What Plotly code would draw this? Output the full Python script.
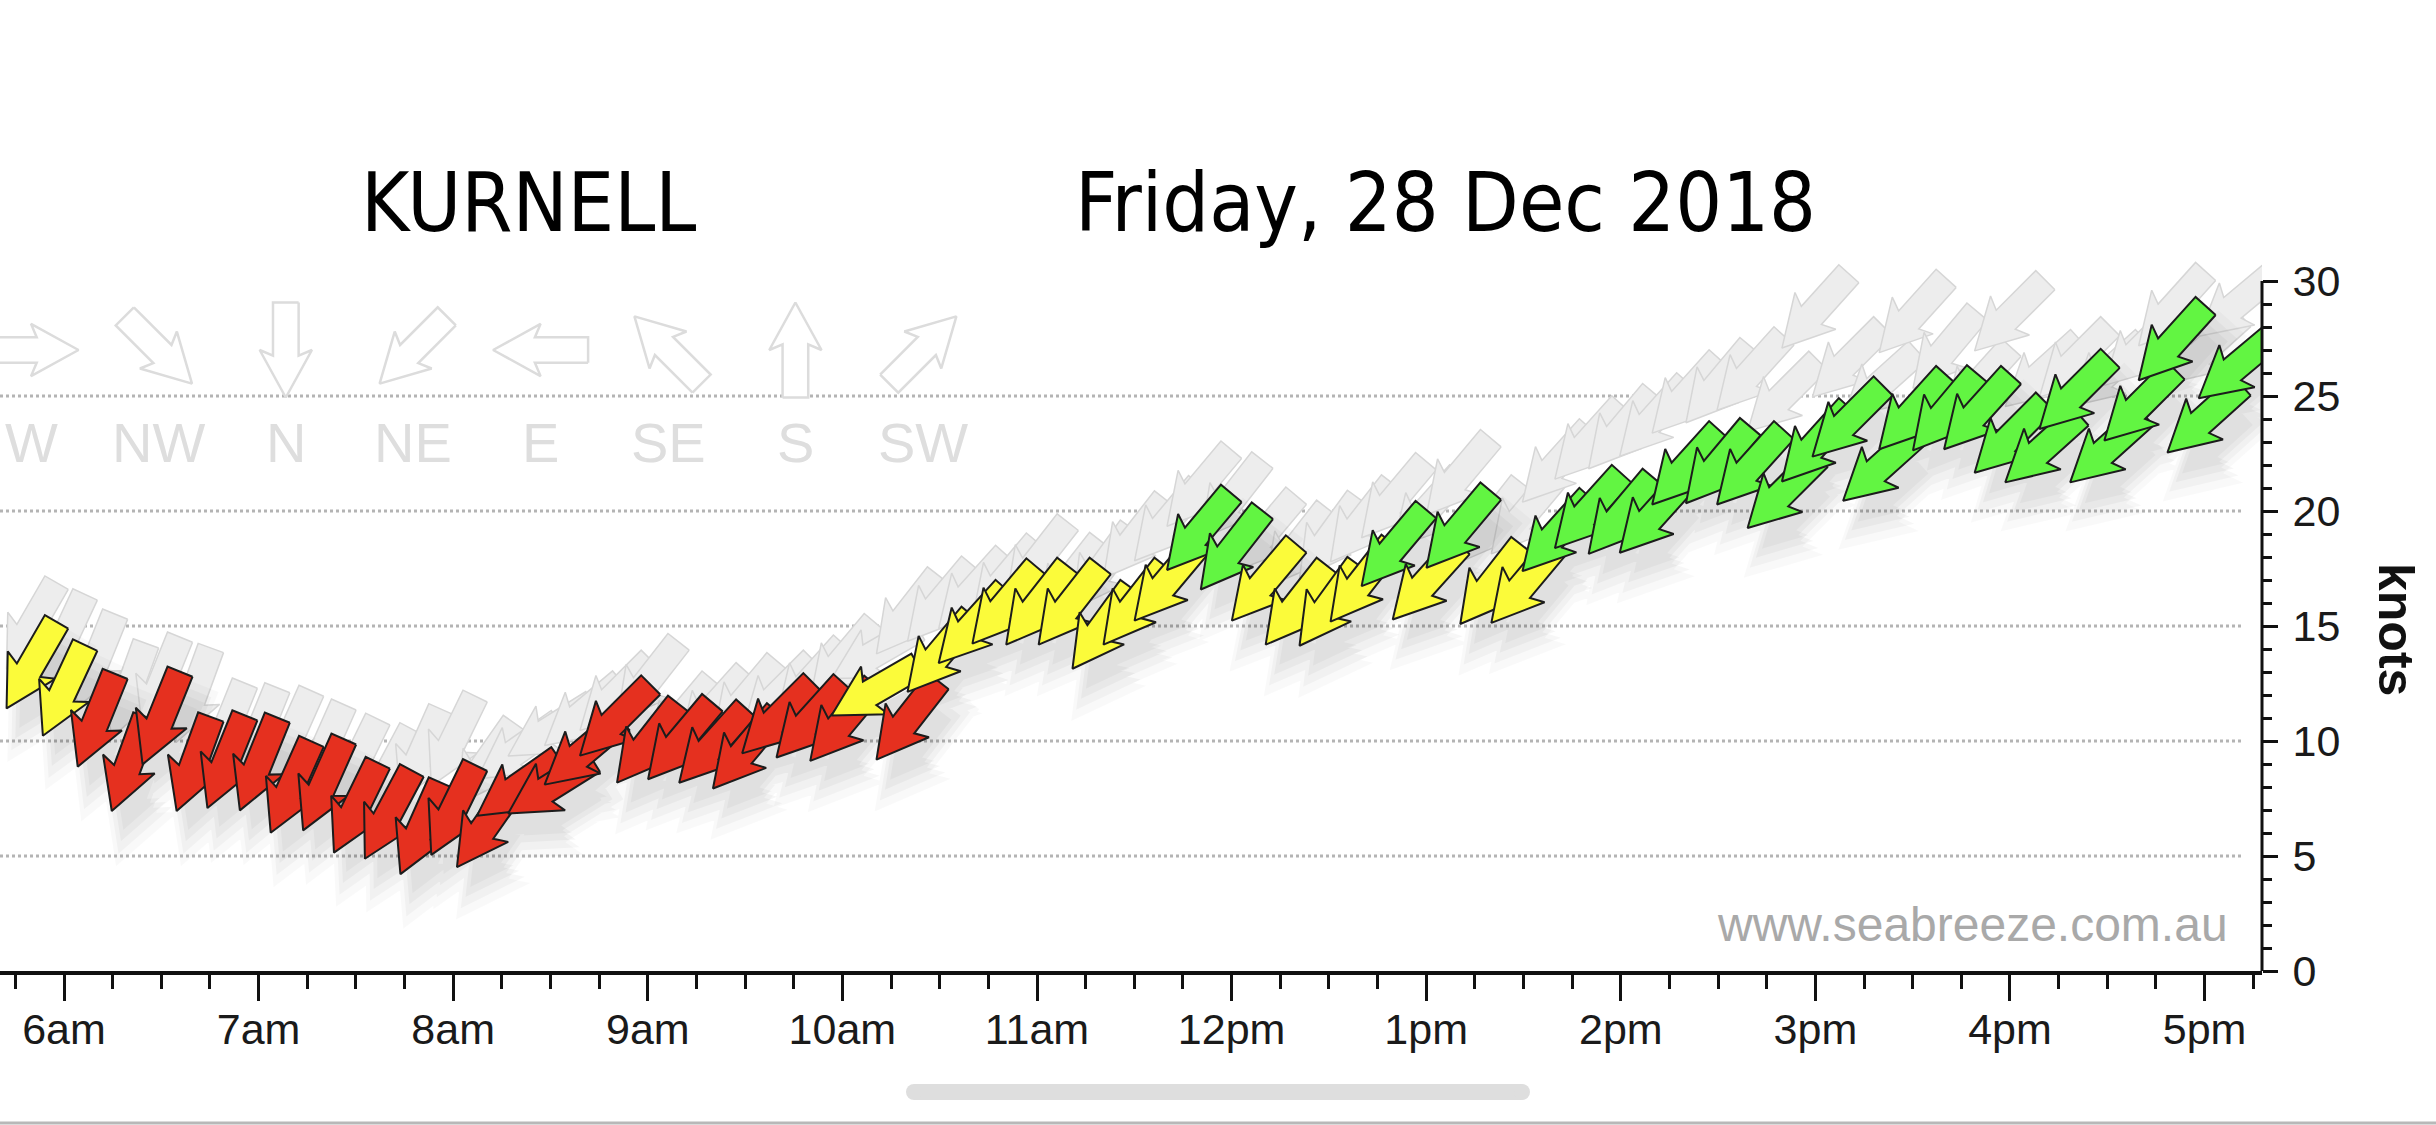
import numpy as np
import plotly.graph_objects as go

# ---------------- data ----------------
times = ["05:50", "06:00", "06:10", "06:20", "06:30", "06:40", "06:50", "07:00", "07:10", "07:20",
         "07:30", "07:40", "07:50", "08:00", "08:10", "08:20", "08:30", "08:40", "08:50", "09:00",
         "09:10", "09:20", "09:30", "09:40", "09:50", "10:00", "10:10", "10:20", "10:30", "10:40",
         "10:50", "11:00", "11:10", "11:20", "11:30", "11:40", "11:50", "12:00", "12:10", "12:20",
         "12:30", "12:40", "12:50", "13:00", "13:10", "13:20", "13:30", "13:40", "13:50", "14:00",
         "14:10", "14:20", "14:30", "14:40", "14:50", "15:00", "15:10", "15:20", "15:30", "15:40",
         "15:50", "16:00", "16:10", "16:20", "16:30", "16:40", "16:50", "17:00", "17:10"]

speed_kn = [13.3, 12.2, 10.9, 9.0, 11.0, 9.0, 9.1, 9.0, 8.0, 8.1,
            7.1, 6.8, 6.2, 7.0, 6.3, 8.0, 8.0, 9.5, 10.9, 9.9,
            10.0, 9.8, 9.6, 11.0, 10.9, 10.8, 12.2, 10.9, 13.8, 15.0,
            15.9, 15.9, 15.9, 14.9, 15.9, 16.9, 19.1, 18.3, 16.9, 15.9,
            15.9, 16.9, 18.4, 16.9, 19.2, 16.8, 16.8, 19.0, 20.0, 19.8,
            19.8, 21.9, 22.0, 21.9, 20.8, 22.9, 23.9, 21.9, 24.3, 24.3,
            24.3, 23.2, 22.7, 25.1, 22.7, 24.6, 27.3, 24.0, 26.3]

gust_kn = [15.0, 14.4, 13.5, 12.2, 12.5, 12.0, 10.5, 10.3, 10.2, 9.6,
           9.0, 8.6, 9.4, 10.0, 9.0, 9.6, 10.5, 11.2, 12.0, 12.6,
           11.0, 11.4, 11.8, 12.0, 12.6, 13.5, 13.8, 15.5, 16.0, 16.5,
           17.0, 17.8, 17.0, 17.5, 18.8, 19.5, 21.0, 20.5, 19.0, 18.4,
           18.8, 19.5, 20.5, 20.0, 21.5, 19.5, 19.8, 22.0, 23.0, 23.5,
           24.0, 25.0, 25.5, 26.0, 25.0, 28.7, 26.5, 25.5, 28.5, 27.0,
           25.5, 28.5, 26.0, 26.5, 26.0, 27.0, 28.8, 27.0, 29.0]

# wind-from direction, degrees
direction_deg = [30, 25, 22, 20, 22, 20, 22, 22, 24, 24,
                 26, 28, 24, 26, 35, 55, 58, 50, 45, 38,
                 40, 42, 40, 45, 42, 40, 60, 38, 40, 42,
                 40, 38, 38, 36, 38, 40, 40, 38, 40, 38,
                 36, 38, 40, 42, 40, 38, 40, 42, 42, 40,
                 42, 42, 40, 42, 45, 42, 45, 48, 42, 40,
                 42, 45, 48, 45, 48, 45, 42, 48, 50]

compass_labels = ["W", "NW", "N", "NE", "E", "SE", "S", "SW"]
compass_dirs = [270, 315, 0, 45, 90, 135, 180, 225]

x_tickvals = [6, 7, 8, 9, 10, 11, 12, 13, 14, 15, 16, 17]
x_ticktext = ["6am", "7am", "8am", "9am", "10am", "11am", "12pm", "1pm", "2pm", "3pm", "4pm", "5pm"]
y_tickvals = [0, 5, 10, 15, 20, 25, 30]

station = "KURNELL"
date_text = "Friday, 28 Dec 2018"
credit = "www.seabreeze.com.au"

# speed bands (knots)
RED_MAX = 12.0
YELLOW_MAX = 18.0

# ---------------- layout geometry ----------------
W, H = 2436, 1125
ML, MR, MT, MB = 0, 174, 212, 154
PLOT_W = W - ML - MR
PLOT_H = H - MT - MB
XMIN, XMAX = 5.6711, 17.2950
YMIN, YMAX = 0, 33
PX_H = PLOT_W / (XMAX - XMIN)
PX_K = PLOT_H / (YMAX - YMIN)

hours = [int(t[:2]) + int(t[3:]) / 60 for t in times]

# arrow outline in pixels (u along pointing direction, v across)
SHAPE_U = [-50, 6, 0, 50, 0, 6, -50]
SHAPE_V = [-13.5, -13.5, -27.5, 0, 27.5, 13.5, 13.5]


def arrow(t, s, deg, scale=1.0, offx=0.0, offy=0.0):
    phi = np.radians(deg + 180.0)
    dx, dy = np.sin(phi), np.cos(phi)
    nx, ny = dy, -dx
    u = np.array(SHAPE_U) * scale
    v = np.array(SHAPE_V) * scale
    px = u * dx + v * nx + offx
    py = u * dy + v * ny + offy
    xs = list(t + px / PX_H) + [t + px[0] / PX_H]
    ys = list(s + py / PX_K) + [s + py[0] / PX_K]
    return xs, ys


def colour(s):
    if s < RED_MAX:
        return "#E5301F"
    if s < YELLOW_MAX:
        return "#FBFB3A"
    return "#62F542"


fig = go.Figure()

# compass legend
leg_x0 = XMIN + 31 / PX_H
leg_step = 127.4 / PX_H
leg_arrow_y = (971 - 350) / PX_K
leg_label_y = (971 - 442) / PX_K
for i, (lab, d) in enumerate(zip(compass_labels, compass_dirs)):
    xs, ys = arrow(leg_x0 + i * leg_step, leg_arrow_y, d, 0.95)
    fig.add_trace(go.Scatter(x=xs, y=ys, mode="lines", fill="toself", fillcolor="#ffffff",
                             line=dict(color="#dcdcdc", width=2.5), hoverinfo="skip"))
    fig.add_annotation(x=leg_x0 + i * leg_step, y=leg_label_y, text=lab, showarrow=False,
                       font=dict(family="Liberation Sans", size=56, color="#dedede"),
                       xanchor="center", yanchor="middle")

# gust ghosts
for t, g, d in zip(hours, gust_kn, direction_deg):
    xs, ys = arrow(t, g, d)
    fig.add_trace(go.Scatter(x=xs, y=ys, mode="lines", fill="toself", fillcolor="#ededed",
                             line=dict(color="#d6d6d6", width=1.5), hoverinfo="skip"))

# soft shadows
for sc, ox, oy, a in [(1.45, 12, -34, 0.022), (1.25, 11, -31, 0.03), (1.05, 10, -28, 0.036),
                      (0.85, 9, -26, 0.03)]:
    X, Y = [], []
    for t, s, d in zip(hours, speed_kn, direction_deg):
        xs, ys = arrow(t, s, d, sc, ox, oy)
        X += xs + [None]
        Y += ys + [None]
    fig.add_trace(go.Scatter(x=X, y=Y, mode="lines", fill="toself",
                             fillcolor=f"rgba(0,0,0,{a})",
                             line=dict(width=0, color="rgba(0,0,0,0)"), hoverinfo="skip"))

# wind arrows
for t, s, d in zip(hours, speed_kn, direction_deg):
    xs, ys = arrow(t, s, d)
    fig.add_trace(go.Scatter(x=xs, y=ys, mode="lines", fill="toself", fillcolor=colour(s),
                             line=dict(color="#1c1c1c", width=2), hoverinfo="skip"))

# dotted gridlines
for v in y_tickvals[1:-1]:
    fig.add_shape(type="line", xref="paper", yref="y", x0=0, x1=0.992, y0=v, y1=v,
                  line=dict(color="#b4b4b4", width=3, dash="dot"), layer="below")
# right axis line only up to top tick
fig.add_shape(type="line", xref="paper", yref="y", x0=1, x1=1, y0=y_tickvals[0], y1=y_tickvals[-1],
              line=dict(color="#111111", width=3))

tick_font = dict(family="Liberation Sans", size=43, color="#1a1a1a")
fig.update_xaxes(range=[XMIN, XMAX], tickvals=x_tickvals, ticktext=x_ticktext,
                 ticks="outside", ticklen=26, tickwidth=3, tickcolor="#111111",
                 minor=dict(dtick=0.25, tick0=6, ticks="outside", ticklen=14, tickwidth=3,
                            tickcolor="#111111", showgrid=False),
                 showline=True, linecolor="#111111", linewidth=4, showgrid=False, zeroline=False,
                 tickfont=tick_font, ticklabelstandoff=-9, fixedrange=True)
fig.update_yaxes(range=[YMIN, YMAX], side="right", tickvals=y_tickvals,
                 ticks="outside", ticklen=15, tickwidth=3, tickcolor="#111111",
                 minor=dict(tickvals=[v for v in range(0, 31) if v % 5], ticks="outside",
                            ticklen=9, tickwidth=3, tickcolor="#111111", showgrid=False),
                 showline=False, showgrid=False, zeroline=False, tickfont=tick_font,
                 ticklabelstandoff=6, fixedrange=True)


def px_x(px):
    return (px - ML) / PLOT_W


def px_y(py):
    return (H - MB - py) / PLOT_H


title_font = dict(family="DejaVu Sans Condensed, DejaVu Sans", size=82, color="#000000")
fig.add_annotation(xref="paper", yref="paper", x=px_x(528), y=px_y(202), text=station,
                   showarrow=False, font=title_font, xanchor="center", yanchor="middle")
fig.add_annotation(xref="paper", yref="paper", x=px_x(1445), y=px_y(202), text=date_text,
                   showarrow=False, font=title_font, xanchor="center", yanchor="middle")
fig.add_annotation(xref="paper", yref="paper", x=px_x(2396), y=px_y(629), text="<b>knots</b>",
                   showarrow=False, textangle=90,
                   font=dict(family="Liberation Sans", size=50, color="#111111"),
                   xanchor="center", yanchor="middle")
fig.add_annotation(xref="paper", yref="paper", x=px_x(2230), y=px_y(924), text=credit,
                   showarrow=False, font=dict(family="Liberation Sans", size=48, color="#a9a9a9"),
                   xanchor="right", yanchor="middle")

# browser scroll indicator and bottom edge
fig.add_shape(type="rect", xref="paper", yref="paper", x0=px_x(914), x1=px_x(1522),
              y0=px_y(1100), y1=px_y(1084), fillcolor="#dedede", line=dict(width=0))
for cx in (914, 1522):
    fig.add_shape(type="circle", xref="paper", yref="paper", x0=px_x(cx - 8), x1=px_x(cx + 8),
                  y0=px_y(1100), y1=px_y(1084), fillcolor="#dedede", line=dict(width=0))
fig.add_shape(type="line", xref="paper", yref="paper", x0=px_x(0), x1=px_x(W),
              y0=px_y(1123), y1=px_y(1123), line=dict(color="#b8b8b8", width=3))

fig.update_layout(width=W, height=H, margin=dict(l=ML, r=MR, t=MT, b=MB),
                  paper_bgcolor="#ffffff", plot_bgcolor="#ffffff", showlegend=False)

fig.write_html("out.html", config={"displayModeBar": False})
